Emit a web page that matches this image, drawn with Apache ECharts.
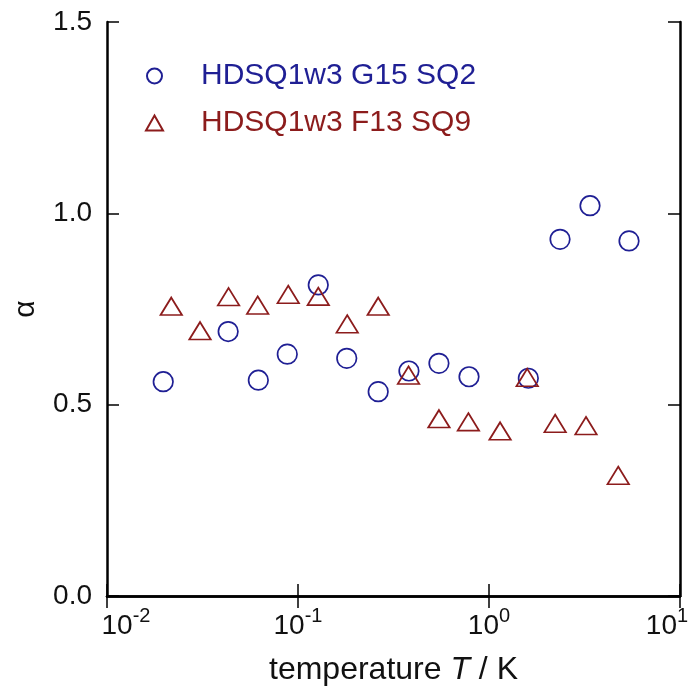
<!DOCTYPE html>
<html>
<head>
<meta charset="utf-8">
<script src="https://cdn.jsdelivr.net/npm/echarts@6/dist/echarts.min.js"></script>
<style>
html,body{margin:0;padding:0;background:#fff;}
#chart{width:689px;height:691px;}
</style>
</head>
<body>
<div id="chart"></div>
<script>
var seriesNames = ['HDSQ1w3 G15 SQ2', 'HDSQ1w3 F13 SQ9'];
var blueT = [0.0197, 0.0431, 0.0620, 0.0879, 0.1277, 0.180, 0.263, 0.381, 0.547, 0.786, 1.607, 2.355, 3.38, 5.41];
var blueAlpha = [0.560, 0.691, 0.564, 0.632, 0.813, 0.621, 0.534, 0.588, 0.608, 0.573, 0.569, 0.932, 1.020, 0.928];
var redT = [0.0217, 0.0307, 0.0433, 0.0615, 0.0889, 0.1277, 0.181, 0.263, 0.379, 0.547, 0.780, 1.143, 1.585, 2.22, 3.22, 4.75];
var redAlpha = [0.757, 0.693, 0.782, 0.760, 0.788, 0.783, 0.711, 0.757, 0.577, 0.463, 0.455, 0.431, 0.571, 0.451, 0.445, 0.315];
var xTicks = [0.01, 0.1, 1, 10];
var yTicks = [0.0, 0.5, 1.0, 1.5];

var BLUE = '#1f1f94';
var RED = '#8c1c1c';
var FONT = '"Liberation Sans", Arial, Helvetica, sans-serif';

function pairs(xs, ys) { return xs.map(function (x, i) { return [x, ys[i]]; }); }

var chart = echarts.init(document.getElementById('chart'), null, {renderer: 'canvas'});
var axisLineStyle = {color: '#000', width: 2.5};
var tickStyle = {color: '#000', width: 1.5};

var option = {
  backgroundColor: '#fff',
  animation: false,
  textStyle: {fontFamily: FONT},
  grid: {left: 107, right: 9, top: 22, bottom: 95, containLabel: false, outerBoundsMode: 'none'},
  legend: {
    orient: 'vertical',
    left: 140,
    top: 56,
    itemWidth: 17,
    itemHeight: 15,
    itemGap: 17,
    formatter: function (n) { return '{p| }{t|' + n + '}'; },
    textStyle: {
      fontFamily: FONT, fontSize: 30, lineHeight: 30,
      rich: {p: {width: 33, fontSize: 30}, t: {fontSize: 30, fontFamily: FONT}}
    },
    data: [
      {name: seriesNames[0], textStyle: {color: BLUE}},
      {name: seriesNames[1], textStyle: {color: RED}}
    ]
  },
  xAxis: [{
    type: 'log', logBase: 10, min: xTicks[0], max: xTicks[xTicks.length - 1],
    position: 'bottom',
    name: '{n|temperature }{i|T}{n| / K}',
    nameLocation: 'middle', nameGap: 58,
    nameTextStyle: {
      color: '#111',
      rich: {
        n: {fontSize: 32, fontFamily: FONT, color: '#111'},
        i: {fontSize: 32, fontFamily: FONT, fontStyle: 'italic', color: '#111'}
      }
    },
    axisLine: {show: true, lineStyle: axisLineStyle},
    axisTick: {show: true, inside: true, length: 12, lineStyle: tickStyle},
    minorTick: {show: false},
    splitLine: {show: false},
    axisLabel: {
      margin: 10,
      formatter: function (v) {
        var e = Math.round(Math.log10(v));
        if (e === -2) return '{aL|10}{b|' + e + '}';
        if (e === 1) return '{a|10}{bR|' + e + '}';
        return '{a|10}{b|' + e + '}';
      },
      rich: {
        a: {fontSize: 28, fontFamily: FONT, color: '#111', lineHeight: 30, padding: [10, 0, 0, 0]},
        aL: {fontSize: 28, fontFamily: FONT, color: '#111', lineHeight: 30, padding: [10, 0, 0, 38]},
        b: {fontSize: 20, fontFamily: FONT, color: '#111', lineHeight: 20, verticalAlign: 'top'},
        bR: {fontSize: 20, fontFamily: FONT, color: '#111', lineHeight: 20, verticalAlign: 'top', padding: [0, 26, 0, 0]}
      }
    }
  }, {
    type: 'log', logBase: 10, min: xTicks[0], max: xTicks[xTicks.length - 1],
    position: 'top',
    axisLine: {show: true, lineStyle: axisLineStyle},
    axisTick: {show: true, inside: true, length: 12, lineStyle: tickStyle},
    axisLabel: {show: false},
    splitLine: {show: false}
  }],
  yAxis: [{
    type: 'value', min: yTicks[0], max: yTicks[yTicks.length - 1], interval: 0.5,
    position: 'left',
    name: 'α', nameLocation: 'middle', nameGap: 66,
    nameTextStyle: {fontSize: 30, fontFamily: FONT, color: '#111'},
    axisLine: {show: true, lineStyle: axisLineStyle},
    axisTick: {show: true, inside: true, length: 12, lineStyle: tickStyle},
    splitLine: {show: false},
    axisLabel: {
      margin: 15, fontSize: 28, fontFamily: FONT, color: '#111',
      formatter: function (v) { return v.toFixed(1); }
    }
  }, {
    type: 'value', min: yTicks[0], max: yTicks[yTicks.length - 1], interval: 0.5,
    position: 'right',
    axisLine: {show: true, lineStyle: axisLineStyle},
    axisTick: {show: true, inside: true, length: 12, lineStyle: tickStyle},
    axisLabel: {show: false},
    splitLine: {show: false}
  }],
  series: [{
    name: seriesNames[0], type: 'scatter', xAxisIndex: 0, yAxisIndex: 0,
    symbol: 'circle', symbolSize: 19.5,
    itemStyle: {color: 'rgba(0,0,0,0)', borderColor: BLUE, borderWidth: 1.7, opacity: 1},
    data: pairs(blueT, blueAlpha), z: 3
  }, {
    name: seriesNames[1], type: 'scatter', xAxisIndex: 0, yAxisIndex: 0,
    symbol: 'triangle', symbolSize: [21.5, 17.5],
    itemStyle: {color: 'rgba(0,0,0,0)', borderColor: RED, borderWidth: 1.7, opacity: 1},
    data: pairs(redT, redAlpha), z: 4
  }]
};
chart.setOption(option);
</script>
</body>
</html>
